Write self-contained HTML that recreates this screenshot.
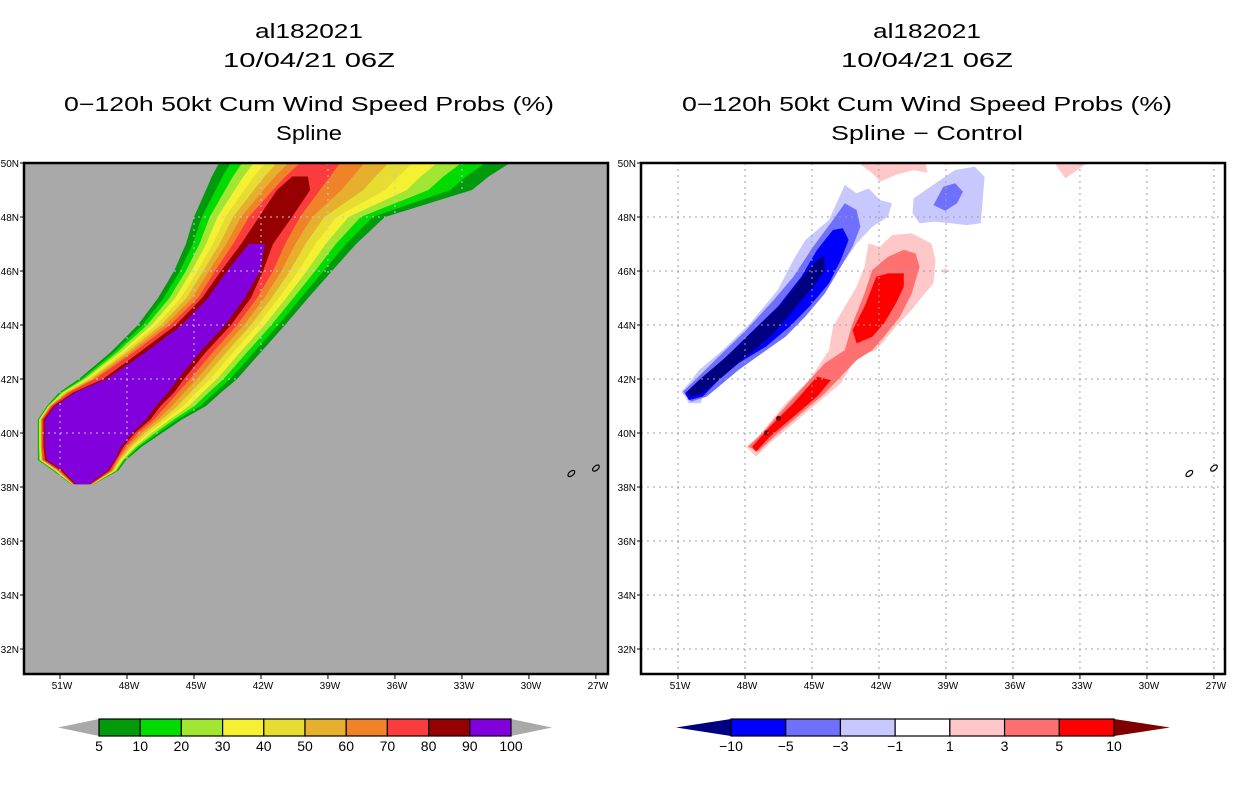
<!DOCTYPE html>
<html><head><meta charset="utf-8"><style>
html,body{margin:0;padding:0;background:#fff;}
svg{display:block;font-family:"Liberation Sans",sans-serif;}
</style></head><body>
<svg id="chart" width="1236" height="800" viewBox="0 0 1236 800">
<defs>
<clipPath id="clipL"><rect x="24" y="163" width="584" height="511"/></clipPath>
<clipPath id="clipR"><rect x="641" y="163" width="584" height="511"/></clipPath>
<clipPath id="clipSwath"><polygon id="swathClipPoly"/></clipPath>
</defs>
<g id="titles" font-size="20" text-anchor="middle" fill="#000">
<text x="309" y="38" textLength="108" lengthAdjust="spacingAndGlyphs">al182021</text>
<text x="309" y="67" textLength="172" lengthAdjust="spacingAndGlyphs">10/04/21 06Z</text>
<text x="309" y="111" textLength="490" lengthAdjust="spacingAndGlyphs">0−120h 50kt Cum Wind Speed Probs (%)</text>
<text x="309" y="140" textLength="66" lengthAdjust="spacingAndGlyphs">Spline</text>
<text x="927" y="38" textLength="108" lengthAdjust="spacingAndGlyphs">al182021</text>
<text x="927" y="67" textLength="172" lengthAdjust="spacingAndGlyphs">10/04/21 06Z</text>
<text x="927" y="111" textLength="490" lengthAdjust="spacingAndGlyphs">0−120h 50kt Cum Wind Speed Probs (%)</text>
<text x="927" y="140" textLength="192" lengthAdjust="spacingAndGlyphs">Spline − Control</text>
</g>
<g id="left"></g>
<g id="right"></g>
<g id="cbars"></g>
</svg>
<script>
// ---- Left panel: probability swath boundaries per latitude row (lon west-negative)
const rowLats = [50, 49.5, 49, 48, 47, 46, 45, 44, 43, 42, 41.5, 41, 40.5, 40, 39.5, 39, 38.6, 38.1];
const edge5  = [[-43.88,-30.85],[-44.2,-31.8],[-44.46,-32.55],[-45.0,-36.45],[-45.36,-37.74],[-45.89,-38.82],[-46.61,-39.89],[-47.51,-40.92],[-48.72,-42.0],[-50.15,-43.07],[-51.04,-43.79],[-51.58,-44.46],[-51.99,-45.54],[-51.99,-46.43],[-51.99,-47.33],[-51.99,-48.04],[-51.3,-48.4],[-50.5,-49.5]];
const edge70 = [[-40.25,-38.46],[-40.9,-38.9],[-41.46,-39.36],[-42.54,-40.25],[-43.25,-40.92],[-44.06,-41.46],[-44.82,-42.18],[-46.07,-43.07],[-47.69,-44.15],[-49.43,-45.18],[-50.6,-45.72],[-51.4,-46.25],[-51.81,-46.79],[-51.81,-47.51],[-51.81,-48.04],[-51.76,-48.45],[-51.05,-48.7],[-50.4,-49.6]];
const edge80 = [null,[-40.6,-39.9],[-41.28,-39.8],[-42.09,-40.61],[-42.89,-41.46],[-43.79,-41.91],[-44.64,-42.45],[-45.81,-43.34],[-47.42,-44.46],[-49.07,-45.45],[-50.42,-45.89],[-51.3,-46.5],[-51.74,-46.95],[-51.74,-47.65],[-51.74,-48.15],[-51.67,-48.5],[-50.95,-48.8],[-50.35,-49.65]];
const edge90 = [null,null,null,null,[-42.54,-41.82],[-43.52,-42.04],[-44.37,-42.72],[-45.54,-43.61],[-47.15,-44.73],[-48.9,-45.72],[-50.33,-46.16],[-51.22,-46.7],[-51.67,-47.15],[-51.67,-47.78],[-51.67,-48.27],[-51.58,-48.54],[-50.85,-48.9],[-50.3,-49.7]];
const probLevels = [5,10,20,30,40,50,60,70,80,90];
const probColors = ["#009a0a","#00dc00","#a0e632","#f5f032","#e6dc32","#e6af2d","#f08228","#fa3c3c","#960000","#8200dc"];
// ---- Right panel: difference contours [lon,lat]
const diffLevels = [-10,-5,-3,-1,1,3,5,10];
const diffColors = ["#000080","#0000ff","#7070ff","#c8c8ff","#ffffff","#ffc8c8","#ff7070","#ff0000","#800000"];
const negM1 = [[-50.86,41.53],[-50.51,41.84],[-50.06,42.33],[-49.0,43.07],[-47.77,44.06],[-46.53,45.30],[-45.83,46.41],[-45.30,47.15],[-44.24,47.89],[-43.53,49.19],[-43.0,48.88],[-42.47,49.06],[-41.95,48.63],[-41.42,48.51],[-41.59,48.01],[-42.30,47.64],[-43.0,47.02],[-43.71,46.16],[-44.42,45.30],[-45.12,44.56],[-46.18,43.81],[-47.06,43.20],[-47.95,42.58],[-48.65,42.09],[-49.36,41.59],[-49.89,41.35],[-49.98,41.10],[-50.51,41.10],[-50.68,41.35]];
const negM1b = [[-40.45,48.69],[-39.47,49.25],[-38.59,49.74],[-37.71,49.86],[-37.27,49.49],[-37.44,47.77],[-38.06,47.70],[-39.47,47.83],[-40.18,47.77],[-40.50,48.14]];
const negM3 = [[-50.77,41.53],[-50.24,41.96],[-49.18,42.83],[-47.95,43.81],[-46.71,44.93],[-45.83,45.79],[-44.95,46.90],[-44.06,47.89],[-43.53,48.51],[-43.0,48.26],[-42.83,47.64],[-43.18,46.90],[-43.71,46.16],[-44.42,45.17],[-45.30,44.31],[-46.18,43.57],[-47.24,42.95],[-48.30,42.33],[-49.0,41.84],[-49.71,41.35],[-50.42,41.16]];
const negM3b = [[-39.56,48.44],[-39.12,49.12],[-38.59,49.25],[-38.24,48.94],[-38.50,48.51],[-39.03,48.23]];
const negM5 = [[-50.68,41.47],[-50.06,41.96],[-49.0,42.70],[-47.77,43.69],[-46.53,44.68],[-45.48,45.79],[-44.77,46.78],[-44.06,47.52],[-43.62,47.58],[-43.36,47.15],[-43.71,46.41],[-44.24,45.54],[-45.12,44.68],[-46.0,43.94],[-47.06,43.20],[-48.30,42.58],[-49.18,41.96],[-49.89,41.35],[-50.51,41.22]];
const negM10 = [[-50.59,41.53],[-49.98,42.02],[-48.83,42.83],[-47.59,43.81],[-46.36,44.80],[-45.30,45.91],[-44.77,46.41],[-44.45,46.56],[-44.42,46.04],[-44.95,45.42],[-45.83,44.56],[-46.71,43.69],[-47.77,42.95],[-48.83,42.21],[-49.71,41.59],[-50.06,41.41],[-50.45,41.35]];
const posP1 = [[-47.95,39.49],[-47.42,39.86],[-46.18,41.10],[-45.12,41.96],[-44.24,43.07],[-44.06,43.94],[-43.53,44.68],[-43.0,45.42],[-42.65,46.16],[-42.47,47.02],[-41.95,46.90],[-41.42,47.33],[-40.53,47.40],[-39.65,47.02],[-39.47,46.41],[-39.56,45.54],[-40.18,44.93],[-40.53,44.56],[-41.24,43.94],[-42.12,43.07],[-43.0,42.83],[-43.71,41.84],[-44.77,41.10],[-46.18,40.11],[-46.89,39.62],[-47.51,39.12]];
const posP1b = [[-43.0,50.05],[-42.30,49.62],[-41.95,49.31],[-41.24,49.56],[-40.45,49.74],[-39.83,49.64],[-39.92,50.05]];
const posP1c = [[-34.18,50.05],[-33.65,49.43],[-33.12,49.74],[-32.59,50.05]];
const posP1d = [[-39.05,46.1],[-38.9,46.0],[-39.05,45.9],[-39.2,46.0]];
const posP3 = [[-47.86,39.49],[-47.24,39.99],[-46.18,40.98],[-45.12,41.96],[-44.42,42.58],[-43.53,43.07],[-43.18,44.06],[-42.65,45.17],[-42.30,46.04],[-41.59,46.53],[-40.89,46.78],[-40.36,46.65],[-40.18,46.16],[-40.53,45.17],[-41.06,44.31],[-41.77,43.57],[-42.30,43.07],[-43.0,42.70],[-43.71,42.09],[-44.42,41.47],[-45.48,40.73],[-46.53,39.99],[-47.42,39.31]];
const posP5 = [[-47.68,39.49],[-46.89,40.23],[-45.83,41.10],[-44.77,42.09],[-44.15,41.96],[-44.77,41.35],[-45.83,40.60],[-46.89,39.86],[-47.51,39.31]];
const posP5b = [[-43.18,43.81],[-42.65,44.68],[-42.12,45.79],[-41.59,45.91],[-40.89,45.91],[-40.89,45.42],[-41.24,44.80],[-41.77,44.06],[-42.30,43.57],[-43.0,43.32]];
const posP10 = [[-47.03,40.01],[-46.50,40.54]];
const islands = [[-28.1,38.5],[-27.0,38.7]];
const lonTicks = [-51,-48,-45,-42,-39,-36,-33,-30,-27];
const latTicks = [50,48,46,44,42,40,38,36,34,32];
const probTickLabels = ["5","10","20","30","40","50","60","70","80","90","100"];
const diffTickLabels = ["−10","−5","−3","−1","1","3","5","10"];

const NS = "http://www.w3.org/2000/svg";
function mk(tag, attrs, parent){const e=document.createElementNS(NS,tag);for(const k in attrs)e.setAttribute(k,attrs[k]);if(parent)parent.appendChild(e);return e;}
const DEG = 22.33, LATDEG = 27, Y0 = 163;
function xScale(panel, lon){return (panel==="L"?60:678) + (lon+51)*DEG;}
function yScale(lat){return Y0 + (50-lat)*LATDEG;}
function ptsStr(panel, arr){return arr.map(p=>xScale(panel,p[0]).toFixed(1)+","+yScale(p[1]).toFixed(1)).join(" ");}

function edgesFor(levelIdx){
  if(levelIdx===0) return edge5;
  if(levelIdx===7) return edge70;
  if(levelIdx===8) return edge80;
  if(levelIdx===9) return edge90;
  const f = levelIdx/7;
  return edge5.map((e,i)=>{const g=edge70[i]; if(!e||!g) return null; return [e[0]+(g[0]-e[0])*f, e[1]+(g[1]-e[1])*f];});
}
function swathPoly(edges){
  const left=[], right=[];
  edges.forEach((e,i)=>{ if(e){ left.push([e[0],rowLats[i]]); right.push([e[1],rowLats[i]]);} });
  return left.concat(right.reverse());
}

function drawPanel(panel){
  const g = document.getElementById(panel==="L"?"left":"right");
  const fx0 = panel==="L"?24:641, fx1 = fx0+584;
  const bg = mk("rect",{x:fx0,y:163,width:584,height:511,fill:panel==="L"?"#a9a9a9":"#ffffff"},g);
  
  
  const inner = mk("g",{"clip-path":panel==="L"?"url(#clipL)":"url(#clipR)"},g);
  if(panel==="L"){
    probLevels.forEach((lv,i)=>{
      const poly = swathPoly(edgesFor(i));
      const p = mk("polygon",{points:ptsStr("L",poly),fill:probColors[i]},inner);
      
      
    });
    document.getElementById("swathClipPoly").setAttribute("points", ptsStr("L", swathPoly(edge5)));
  } else {
    const shapes = [[negM1,3],[negM1b,3],[negM3,2],[negM3b,2],[negM5,1],[negM10,0],[posP1,5],[posP1b,5],[posP1c,5],[posP1d,5],[posP3,6],[posP5,7],[posP5b,7]];
    shapes.forEach((s,i)=>{
      const p = mk("polygon",{points:ptsStr("R",s[0]),fill:diffColors[s[1]]},inner);
      
      
    });
    posP10.forEach(pt=>{
      const c = mk("circle",{cx:xScale("R",pt[0]),cy:yScale(pt[1]),r:2.5,fill:"#800000"},inner);
      
      
    });
  }
  const grid = mk("g",{stroke:panel==="L"?"#c8c8e0":"#a0a0a0","stroke-width":1,"stroke-dasharray":"2,4"},inner);
  if(panel==="L") grid.setAttribute("clip-path","url(#clipSwath)");
  
  
  lonTicks.forEach(lon=>{const x=xScale(panel,lon); mk("line",{x1:x,y1:163,x2:x,y2:674},grid);});
  latTicks.forEach(lat=>{const y=yScale(lat); mk("line",{x1:fx0,y1:y,x2:fx1,y2:y},grid);});
  islands.forEach(pt=>{
    const e = mk("ellipse",{cx:xScale(panel,pt[0]),cy:yScale(pt[1]),rx:4,ry:2.2,fill:"none",stroke:"#000","stroke-width":1.2,transform:`rotate(-40 ${xScale(panel,pt[0])} ${yScale(pt[1])})`},inner);
    
    
  });
  const fr = mk("rect",{x:fx0,y:163,width:584,height:511,fill:"none",stroke:"#000","stroke-width":2.5},g);
  
  
  const ax = mk("g",{"font-size":10,fill:"#000"},g);
  
  
  lonTicks.forEach(lon=>{
    const x=xScale(panel,lon);
    mk("line",{x1:x,y1:674,x2:x,y2:679,stroke:"#000"},ax);
    const t=mk("text",{x:x+2,y:689,"text-anchor":"middle"},ax);
    t.textContent=Math.abs(lon)+"W";
    
    
  });
  latTicks.forEach(lat=>{
    const y=yScale(lat);
    mk("line",{x1:fx0-4,y1:y,x2:fx0,y2:y,stroke:"#000"},ax);
    const t=mk("text",{x:fx0-5,y:y+4,"text-anchor":"end"},ax);
    t.textContent=lat+"N";
    
    
  });
}
drawPanel("L");
drawPanel("R");

function colorbar(x0, x1, tipL, tipR, colors, labels, leftTip, rightTip, name){
  const g = document.getElementById("cbars");
  const cb = mk("g",{},g);
  
  
  const y0=719, y1=736, ym=(y0+y1)/2;
  const n = colors.length, w=(x1-x0)/n;
  mk("polygon",{points:`${tipL},${ym} ${x0},${y0} ${x0},${y1}`,fill:leftTip},cb);
  mk("polygon",{points:`${tipR},${ym} ${x1},${y0} ${x1},${y1}`,fill:rightTip},cb);
  colors.forEach((c,i)=>{
    const r=mk("rect",{x:x0+i*w,y:y0,width:w,height:y1-y0,fill:c,stroke:"#000","stroke-width":1.2},cb);
    
    
  });
  labels.forEach((l,i)=>{
    const t=mk("text",{x:x0+i*w,y:751,"text-anchor":"middle","font-size":14},cb);
    t.textContent=l;
    
    
  });
}
colorbar(99, 511, 58, 552, probColors, probTickLabels, "#a9a9a9", "#a9a9a9", "left-colorbar");
colorbar(731, 1114, 676, 1170, diffColors.slice(1,8), diffTickLabels, "#000080", "#800000", "right-colorbar");
</script>
</body></html>
